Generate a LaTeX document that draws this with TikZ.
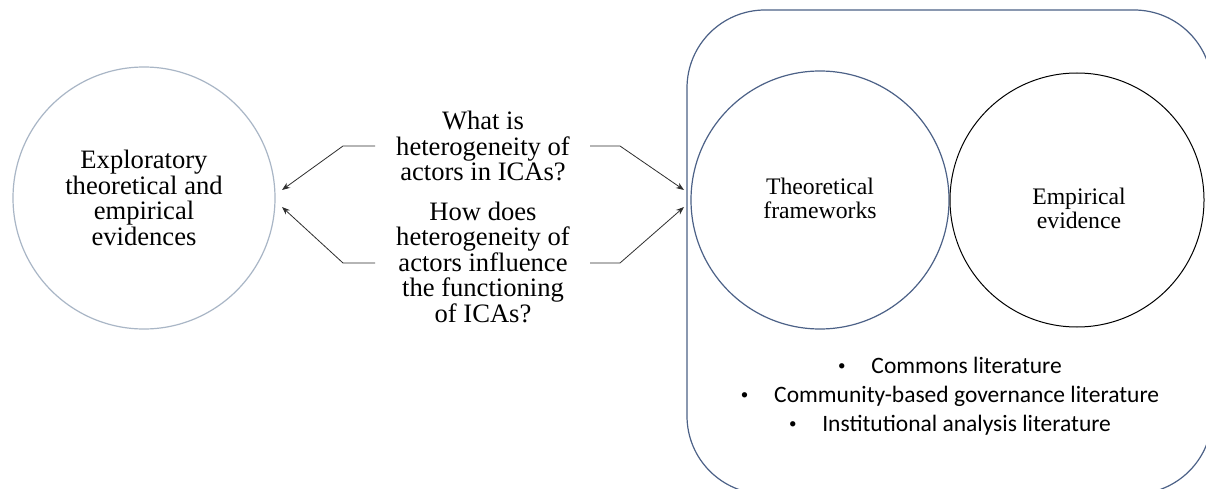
\documentclass[tikz,border=0pt]{standalone}
\usepackage{fontspec}
\setmainfont{Liberation Serif}
\newfontfamily\calib{Carlito}
\usetikzlibrary{arrows.meta}
\definecolor{lightring}{HTML}{A9B6C6}
\definecolor{darkring}{HTML}{4C6187}
\definecolor{arrowgray}{HTML}{2E2E2E}
\newcommand{\litbullet}{\raisebox{2.6pt}{\fontsize{15}{15}\selectfont\textbullet}\hspace{1.1em}}
\begin{document}
\begin{tikzpicture}[x=1pt,y=-1pt,
  ring/.style={circle,draw,line width=1.2pt,inner sep=0pt,align=center},
  serifbig/.style={font=\fontsize{26.6}{25.5}\selectfont},
  serifmid/.style={font=\fontsize{23.7}{24}\selectfont},
  conn/.style={draw=arrowgray,line width=0.8pt,-{Stealth[length=8pt,width=6pt]}}]
\useasboundingbox (0,0) rectangle (1206,489);
\fill[white] (0,0) rectangle (1206,489);
% big rounded frame
\draw[darkring,line width=1.2pt,rounded corners=78pt] (687,10) rectangle (1212,494);
% circles
\node[ring,draw=lightring,minimum size=262pt,serifbig] (expl) at (144,198)
  {Exploratory\\theoretical and\\empirical\\evidences};
\node[ring,draw=darkring,minimum size=258pt] (theo) at (820,200) {};
\node[ring,draw=black,line width=1pt,minimum size=254pt] (emp) at (1077,200) {};
\node[serifmid,align=center] (theotxt) at (820,198) {Theoretical\\frameworks};
\node[serifmid,align=center] (emptxt) at (1079,208) {\fontsize{23.7}{32}\selectfont Empirical\\evidence};
% questions
\node[serifbig,align=center] (q1) at (483,146) {What is\\heterogeneity of\\actors in ICAs?};
\node[serifbig,align=center] (q2) at (483,262) {How does\\heterogeneity of\\actors influence\\the functioning\\of ICAs?};
% connectors
\coordinate (q1l) at (375,146);
\coordinate (q1lk) at (343,146);
\coordinate (q1r) at (590,146);
\coordinate (q1rk) at (620,146);
\coordinate (q2l) at (375,263);
\coordinate (q2lk) at (343,263);
\coordinate (q2r) at (590,263);
\coordinate (q2rk) at (620,263);
\coordinate (el1) at (282,190);
\coordinate (el2) at (282,207);
\coordinate (fr1) at (684,190);
\coordinate (fr2) at (684,207);
\draw[conn] (q1l) -- (q1lk) -- (el1);
\draw[conn] (q2l) -- (q2lk) -- (el2);
\draw[conn] (q1r) -- (q1rk) -- (fr1);
\draw[conn] (q2r) -- (q2rk) -- (fr2);
% literature list
\node[font=\calib\fontsize{23.5}{29}\selectfont,align=center] (lit) at (950,396)
  {\litbullet Commons literature\\
   \litbullet Community-based governance literature\\
   \litbullet Institutional analysis literature};
\end{tikzpicture}
\end{document}
